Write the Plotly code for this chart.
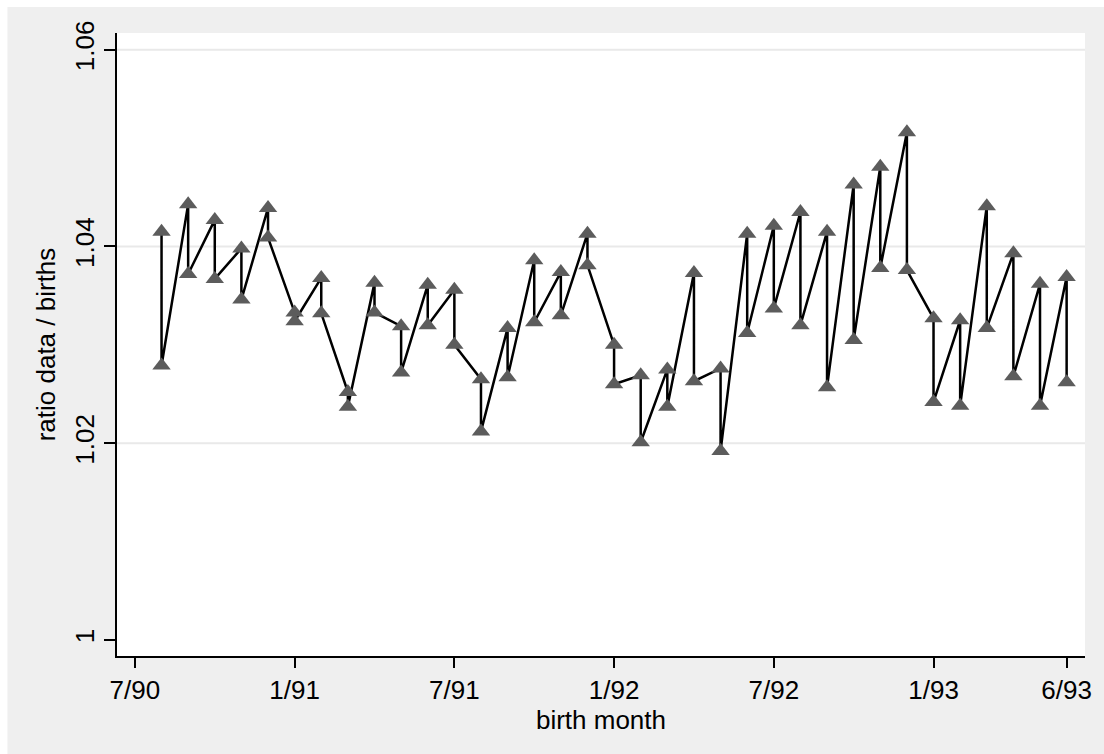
import plotly.graph_objects as go

# birth months (month/year) and the two ratio values drawn for each month
months = ["8/90", "9/90", "10/90", "11/90", "12/90",
          "1/91", "2/91", "3/91", "4/91", "5/91", "6/91", "7/91", "8/91", "9/91", "10/91", "11/91", "12/91",
          "1/92", "2/92", "3/92", "4/92", "5/92", "6/92", "7/92", "8/92", "9/92", "10/92", "11/92", "12/92",
          "1/93", "2/93", "3/93", "4/93", "5/93", "6/93"]
ratio_first = [1.0415, 1.0443, 1.0427, 1.0398, 1.0439,
               1.0333, 1.0368, 1.0252, 1.0363, 1.0319, 1.0361, 1.0356, 1.0265, 1.0317, 1.0386, 1.0374, 1.0413,
               1.0300, 1.0269, 1.0275, 1.0373, 1.0276, 1.0413, 1.0421, 1.0435, 1.0415, 1.0463, 1.0481, 1.0516,
               1.0327, 1.0325, 1.0441, 1.0393, 1.0362, 1.0369]
ratio_second = [1.0279, 1.0372, 1.0367, 1.0346, 1.0409,
                1.0324, 1.0332, 1.0237, 1.0333, 1.0272, 1.0320, 1.0300, 1.0212, 1.0267, 1.0323, 1.0330, 1.0381,
                1.0260, 1.0201, 1.0237, 1.0263, 1.0192, 1.0312, 1.0337, 1.0320, 1.0257, 1.0305, 1.0378, 1.0376,
                1.0242, 1.0238, 1.0317, 1.0268, 1.0238, 1.0262]
tick_months = ["7/90", "1/91", "7/91", "1/92", "7/92", "1/93", "6/93"]
y_ticks = [1.0, 1.02, 1.04, 1.06]
y_tick_text = ["1", "1.02", "1.04", "1.06"]
grid_values = [1.02, 1.04, 1.06]


def month_index(lbl):
    m, y = lbl.split("/")
    return (int(y) - 90) * 12 + int(m) - 7


xs, ys = [], []
for lbl, a, b in zip(months, ratio_first, ratio_second):
    xs += [month_index(lbl), month_index(lbl)]
    ys += [a, b]

FONT = "Liberation Sans, Arial, Helvetica, sans-serif"

fig = go.Figure()
fig.add_trace(go.Scatter(
    x=xs, y=ys, mode="lines+markers",
    line=dict(color="black", width=2.5),
    marker=dict(symbol="triangle-up", size=16, color="#5c5c5c", line=dict(width=0)),
    showlegend=False, hoverinfo="skip",
))

shapes = []
for g in grid_values:
    shapes.append(dict(type="line", xref="paper", x0=0, x1=1, yref="y", y0=g, y1=g,
                       line=dict(color="#e9e9e9", width=2), layer="below"))
# thin white border at top and left of the gray graph region
shapes.append(dict(type="rect", xref="paper", yref="paper", x0=-0.2, x1=-0.1132, y0=-0.3, y1=1.2,
                   fillcolor="white", line=dict(width=0), layer="below"))
shapes.append(dict(type="rect", xref="paper", yref="paper", x0=-0.2, x1=1.1, y0=1.0417, y1=1.2,
                   fillcolor="white", line=dict(width=0), layer="below"))

fig.update_layout(
    width=1104, height=754,
    margin=dict(l=117, r=15, t=33, b=98),
    paper_bgcolor="#efefef", plot_bgcolor="white",
    font=dict(family=FONT, size=26, color="black"),
    shapes=shapes,
    xaxis=dict(
        range=[-0.673, 35.69],
        tickvals=[month_index(t) for t in tick_months], ticktext=tick_months,
        showline=True, linecolor="black", linewidth=2,
        ticks="outside", ticklen=10, tickwidth=2, tickcolor="black",
        showgrid=False, zeroline=False,
        tickfont=dict(size=26),
        title=dict(text="birth month", font=dict(size=26), standoff=4),
    ),
    yaxis=dict(
        range=[0.99837, 1.0617],
        tickvals=y_ticks, ticktext=y_tick_text, tickangle=-90,
        showline=True, linecolor="black", linewidth=2,
        ticks="outside", ticklen=11, tickwidth=2, tickcolor="black",
        showgrid=False, zeroline=False,
        tickfont=dict(size=26),
        title=dict(text="ratio data / births", font=dict(size=26), standoff=6),
    ),
)

fig.write_html("out.html")
